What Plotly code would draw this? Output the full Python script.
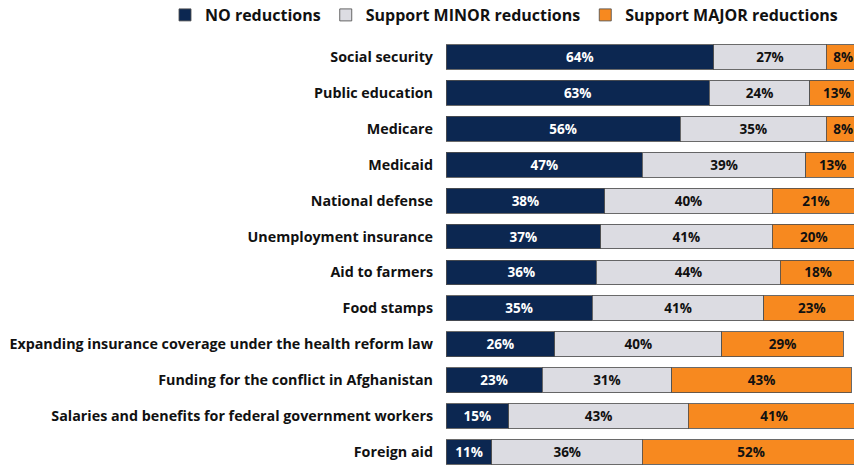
import plotly.graph_objects as go

categories = [
    "Social security",
    "Public education",
    "Medicare",
    "Medicaid",
    "National defense",
    "Unemployment insurance",
    "Aid to farmers",
    "Food stamps",
    "Expanding insurance coverage under the health reform law",
    "Funding for the conflict in Afghanistan",
    "Salaries and benefits for federal government workers",
    "Foreign aid",
]
no_reductions = [64, 63, 56, 47, 38, 37, 36, 35, 26, 23, 15, 11]
minor_reductions = [27, 24, 35, 39, 40, 41, 44, 41, 40, 31, 43, 36]
major_reductions = [8, 13, 8, 13, 21, 20, 18, 23, 29, 43, 41, 52]

series_names = ["NO reductions", "Support MINOR reductions", "Support MAJOR reductions"]
colors = ["#0c2751", "#dcdce2", "#f7891f"]
text_colors = ["white", "#111111", "#111111"]
FONT = "Open Sans"

W, H = 854, 466
ML, MT = 446, 39
PW = W - ML
PH = H - MT

fig = go.Figure()
for name, vals, col, tcol in zip(series_names,
                                 [no_reductions, minor_reductions, major_reductions],
                                 colors, text_colors):
    fig.add_trace(go.Bar(
        y=categories,
        x=vals,
        name=name,
        orientation="h",
        marker=dict(color=col, line=dict(color="rgba(80,80,80,0.85)", width=1)),
        text=[f"{v}%" for v in vals],
        textposition="inside",
        insidetextanchor="middle",
        textfont=dict(family=FONT, size=13.5, color=tcol, weight="bold"),
        constraintext="none",
        hoverinfo="skip",
    ))

n = len(categories)
fig.update_layout(
    barmode="stack",
    bargap=0.31,
    width=W,
    height=H,
    margin=dict(l=ML, r=0, t=MT, b=0, autoexpand=False),
    plot_bgcolor="white",
    paper_bgcolor="white",
    font=dict(family=FONT, size=14, color="#111111"),
    showlegend=True,
    legend=dict(
        orientation="h",
        x=(165 - ML) / PW, y=1 + (MT - 15) / PH,
        xanchor="left", yanchor="middle",
        font=dict(family=FONT, size=16, color="#111111", weight="bold"),
        traceorder="normal",
        bgcolor="rgba(0,0,0,0)",
    ),
    xaxis=dict(range=[0, 97.6], visible=False, showgrid=False, zeroline=False),
    yaxis=dict(
        categoryorder="array",
        categoryarray=categories,
        range=[n - 0.5 - 0.11, -0.5],
        showgrid=False,
        zeroline=False,
        showline=False,
        ticks="",
        ticklabelstandoff=12,
        tickfont=dict(family=FONT, size=14.3, color="#111111", weight="bold"),
    ),
)

fig.write_html(
    "out.html",
    config={"displayModeBar": False},
    post_script="document.documentElement.style.margin='0';"
                "document.body.style.margin='0';"
                "document.body.style.overflow='hidden';",
)
